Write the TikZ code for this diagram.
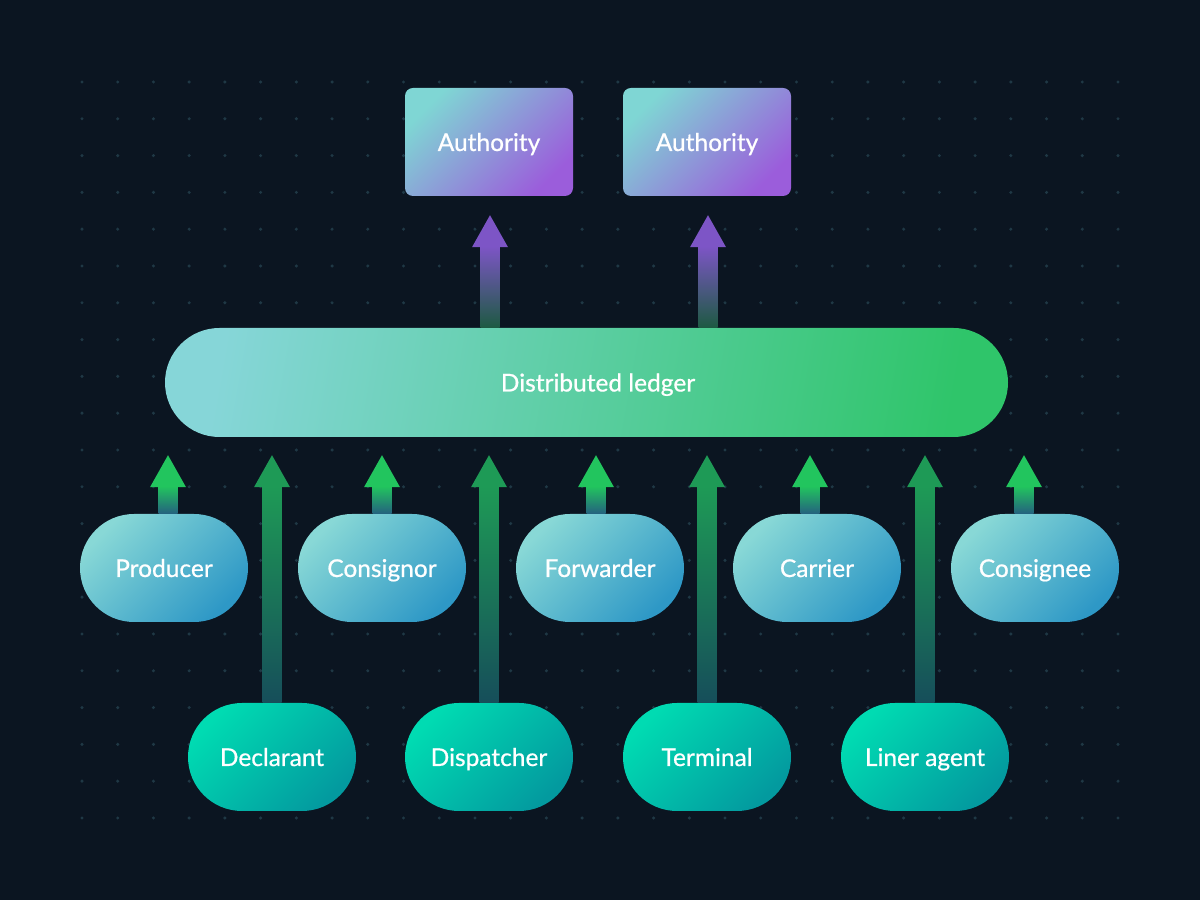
\documentclass[tikz,border=0pt]{standalone}
\usepackage{fontspec}
\setmainfont{Lato}
\newfontfamily\lblfont[FakeBold=0.7]{Lato}
\usetikzlibrary{calc}
\definecolor{bg}{HTML}{0B1521}
\definecolor{dotc}{HTML}{1F3845}
\definecolor{authA}{HTML}{7FD6D4}
\definecolor{authB}{HTML}{9B5DDB}
\definecolor{ledA}{HTML}{86D6D8}
\definecolor{ledB}{HTML}{2FC56A}
\definecolor{rowA}{HTML}{88D8D6}
\definecolor{rowB}{HTML}{2E98C6}
\definecolor{botA}{HTML}{00DBB2}
\definecolor{botB}{HTML}{039A9F}
\definecolor{purHead}{HTML}{7D55C6}
\definecolor{purBot}{HTML}{1D5A42}
\definecolor{sgHead}{HTML}{22C55E}
\definecolor{sgBot}{HTML}{24617F}
\definecolor{lgHead}{HTML}{1E9A56}
\definecolor{lgBot}{HTML}{164E5A}
\tikzset{
  lbl/.style={text=white,font=\lblfont\fontsize{24.5}{28}\selectfont,text height=18pt,text depth=0pt},
  authbox/.style={lbl,rectangle,rounded corners=8pt,minimum width=168pt,minimum height=108pt,
    top color=authA,bottom color=authB,shading angle=45},
  rowbox/.style={lbl,rectangle,rounded corners=54pt,minimum width=168pt,minimum height=108pt,
    top color=rowA,bottom color=rowB,shading angle=45},
  botbox/.style={lbl,rectangle,rounded corners=54pt,minimum width=168pt,minimum height=108pt,
    top color=botA,bottom color=botB,shading angle=45},
  ledbox/.style={rectangle,rounded corners=54.5pt,minimum width=843pt,minimum height=109pt,
    left color=ledA,right color=ledB,shading angle=80},
}
% #1 start (shaft bottom), #2 target anchor, #3 gap below target, #4 head colour, #5 shaft bottom colour
\newcommand\fatarrow[5]{%
  \shade[top color=#4,bottom color=#5] let \p1=(#1), \p2=(#2) in
    ({\x1-9.5pt},{\y1}) rectangle ({\x1+9.5pt},{\y2-#3-31pt});
  \fill[#4] let \p1=(#1), \p2=(#2) in
    ({\x1-18pt},{\y2-#3-32pt}) -- ({\x1},{\y2-#3}) -- ({\x1+18pt},{\y2-#3-32pt}) -- cycle;
}
\begin{document}
\begin{tikzpicture}[x=1pt,y=1pt]
\useasboundingbox (0,0) rectangle (1200,900);
\fill[bg] (0,0) rectangle (1200,900);
\foreach \i in {0,...,29}{
  \foreach \j in {0,...,20}{
    \fill[dotc] ({82+\i*35.724},{900-(82+\j*36.8)}) circle (1.7pt);
  }
}
% nodes
\node[authbox] (auth1) at (489,758) {Authority};
\node[authbox] (auth2) at (707,758) {Authority};
\node[ledbox,label={[lbl,xshift=11.5pt]center:Distributed ledger}] (ledger) at (586.5,517.5) {};
\node[rowbox] (prod) at (164,332) {Producer};
\node[rowbox] (consr) at (382,332) {Consignor};
\node[rowbox] (fwd) at (600,332) {Forwarder};
\node[rowbox] (carr) at (817,332) {Carrier};
\node[rowbox] (conse) at (1035,332) {Consignee};
\node[botbox] (decl) at (272,143) {Declarant};
\node[botbox] (disp) at (489,143) {Dispatcher};
\node[botbox] (term) at (707,143) {Terminal};
\node[botbox] (liner) at (925,143) {Liner agent};
% arrows ledger -> authorities
\fatarrow{[xshift=1pt]auth1.south |- ledger.north}{auth1.south}{19pt}{purHead}{purBot}
\fatarrow{[xshift=1pt]auth2.south |- ledger.north}{auth2.south}{19pt}{purHead}{purBot}
% short arrows
\fatarrow{[xshift=4pt]prod.north}{ledger.south}{18pt}{sgHead}{sgBot}
\fatarrow{[xshift=0pt]consr.north}{ledger.south}{18pt}{sgHead}{sgBot}
\fatarrow{[xshift=-4pt]fwd.north}{ledger.south}{18pt}{sgHead}{sgBot}
\fatarrow{[xshift=-7pt]carr.north}{ledger.south}{18pt}{sgHead}{sgBot}
\fatarrow{[xshift=-11pt]conse.north}{ledger.south}{18pt}{sgHead}{sgBot}
% long arrows
\fatarrow{decl.north}{ledger.south}{18pt}{lgHead}{lgBot}
\fatarrow{disp.north}{ledger.south}{18pt}{lgHead}{lgBot}
\fatarrow{term.north}{ledger.south}{18pt}{lgHead}{lgBot}
\fatarrow{liner.north}{ledger.south}{18pt}{lgHead}{lgBot}
\end{tikzpicture}
\end{document}
